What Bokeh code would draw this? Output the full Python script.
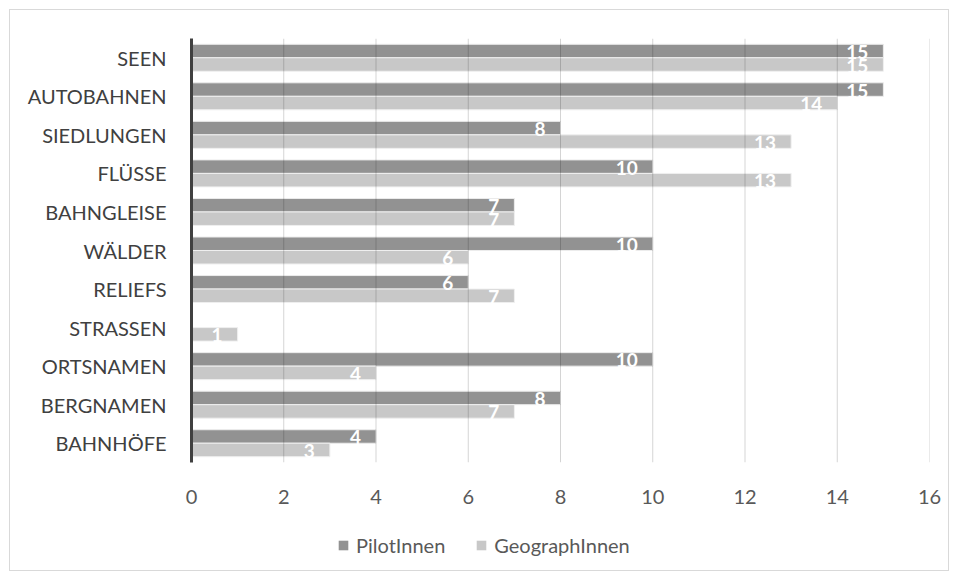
from bokeh.plotting import figure
from bokeh.layouts import column
from bokeh.models import (ColumnDataSource, FactorRange, Range1d, Legend, LegendItem,
                          FixedTicker, Span)
from bokeh.transform import dodge
from bokeh.core.properties import value
from bokeh.embed import file_html
from bokeh.resources import INLINE

categories = ["SEEN", "AUTOBAHNEN", "SIEDLUNGEN", "FLÜSSE", "BAHNGLEISE", "WÄLDER",
              "RELIEFS", "STRASSEN", "ORTSNAMEN", "BERGNAMEN", "BAHNHÖFE"]
pilot = [15, 15, 8, 10, 7, 10, 6, 0, 10, 8, 4]
geograph = [15, 14, 13, 13, 7, 6, 7, 1, 4, 7, 3]
series_names = ["PilotInnen", "GeographInnen"]
x_ticks = [0, 2, 4, 6, 8, 10, 12, 14, 16]

FONT = "Lato"
DARK = "#929292"
LIGHT = "#c8c8c8"
TEXT = "#595959"

src_p = ColumnDataSource(dict(cat=categories, v=pilot,
                              lbl=[str(v) if v else "" for v in pilot]))
src_g = ColumnDataSource(dict(cat=categories, v=geograph,
                              lbl=[str(v) if v else "" for v in geograph]))

p = figure(width=938, height=510, output_backend="svg", toolbar_location=None,
           y_range=FactorRange(factors=list(reversed(categories)), range_padding=0),
           x_range=Range1d(0, 16),
           min_border_left=181, min_border_right=19, min_border_top=28,
           min_border_bottom=58)
p.outline_line_color = None

bar_h = 0.35
off = 0.175
p.hbar(y=dodge("cat", off, range=p.y_range), right="v", height=bar_h, left=0,
       source=src_p, fill_color=DARK, line_color="#ececec", line_width=1)
p.hbar(y=dodge("cat", -off, range=p.y_range), right="v", height=bar_h, left=0,
       source=src_g, fill_color=LIGHT, line_color="#efefef", line_width=1)

# value labels, white, just inside the end of each bar
for src, o in ((src_p, off), (src_g, -off)):
    p.text(x="v", y=dodge("cat", o, range=p.y_range), text="lbl", source=src,
           text_align="right", text_baseline="middle", x_offset=-15, y_offset=1,
           text_color="white", text_font=value(FONT), text_font_style="bold",
           text_font_size="19px")

# vertical guide lines sit on top of the bars
p.xgrid.grid_line_color = None
p.ygrid.grid_line_color = None
for t in x_ticks[1:]:
    p.add_layout(Span(location=t, dimension="height", line_color="black",
                      line_alpha=0.17, line_width=1, level="overlay"))
p.xaxis.ticker = FixedTicker(ticks=x_ticks)

p.xaxis.axis_line_color = None
p.xaxis.major_tick_line_color = None
p.xaxis.minor_tick_line_color = None
p.xaxis.major_label_standoff = 21
p.xaxis.major_label_text_font = FONT
p.xaxis.major_label_text_font_size = "20px"
p.xaxis.major_label_text_color = TEXT

p.yaxis.axis_line_color = "#404040"
p.yaxis.axis_line_width = 3
p.yaxis.major_tick_line_color = None
p.yaxis.minor_tick_line_color = None
p.yaxis.major_label_standoff = 19
p.yaxis.major_label_text_font = FONT
p.yaxis.major_label_text_font_size = "20px"
p.yaxis.major_label_text_color = "#404040"

# legend strip under the chart; its keys come from zero-size swatch bars
lg = figure(width=938, height=50, output_backend="svg", toolbar_location=None,
            x_range=Range1d(0, 1), y_range=Range1d(0, 1),
            x_axis_type=None, y_axis_type=None,
            min_border_left=0, min_border_right=0, min_border_top=0,
            min_border_bottom=0)
lg.outline_line_color = None
lg.xgrid.grid_line_color = None
lg.ygrid.grid_line_color = None
items = []
for name, color in zip(series_names, (DARK, LIGHT)):
    r = lg.hbar(y=[0.5], right=[0], left=0, height=0,
                fill_color=color, line_color=color, line_alpha=0)
    items.append(LegendItem(label=name, renderers=[r]))
legend = Legend(items=items, orientation="horizontal", location=(146, 13),
                label_text_font=FONT, label_text_font_size="20px",
                label_text_color=TEXT, glyph_width=12, glyph_height=12,
                label_height=12, label_standoff=7, spacing=30,
                border_line_color=None, background_fill_alpha=0,
                margin=0, padding=0)
lg.add_layout(legend)

page = column(p, lg, spacing=0, margin=(9, 9, 9, 9),
              styles={"border": "1px solid #d9d9d9"})

open("out.html", "w").write(file_html(page, INLINE))
